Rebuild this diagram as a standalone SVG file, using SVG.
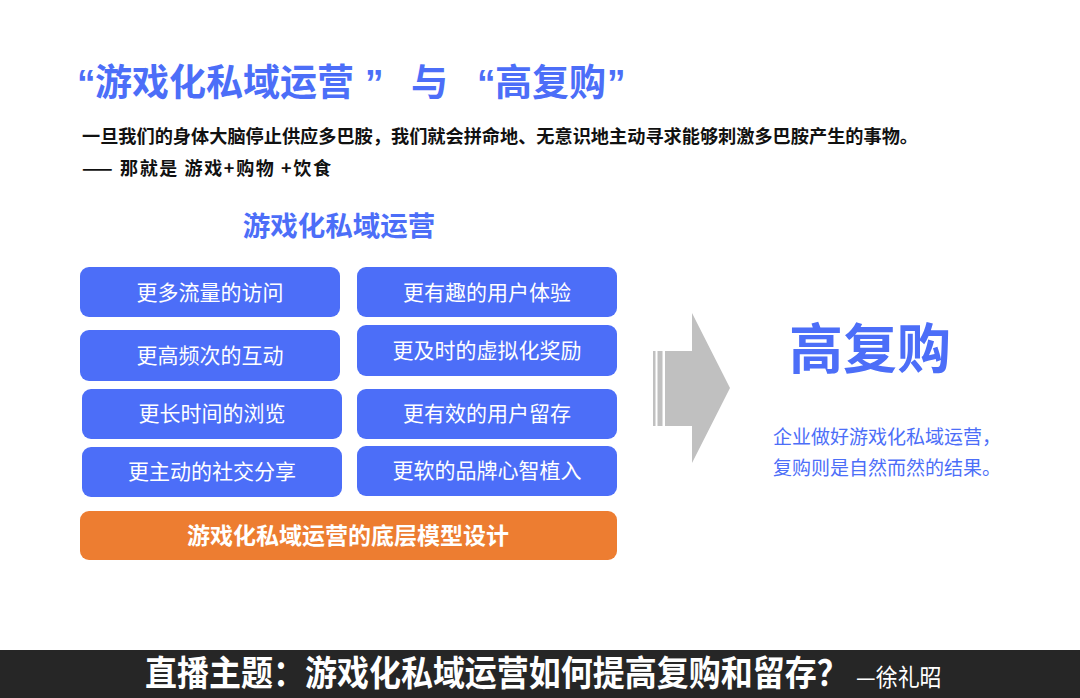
<svg xmlns="http://www.w3.org/2000/svg" width="1080" height="698" viewBox="0 0 1080 698">
<style>
text{font-family:"Noto Sans CJK SC","Noto Sans",sans-serif}
.blue{fill:#4c6ef8}
.q{font-family:"Liberation Sans","Noto Sans",sans-serif}
.box{fill:#4c6ef8}
.bt{fill:#ffffff;font-size:21px;text-anchor:middle}
.arrow{fill:#c0c0c0}
</style>
<rect width="1080" height="698" fill="#ffffff"/>
<g id="title">
<text class="blue" y="96" font-size="37" font-weight="700"><tspan class="q" x="77">“</tspan><tspan x="95">游戏化私域运营</tspan><tspan class="q" x="365">”</tspan><tspan x="411">与</tspan><tspan class="q" x="477">“</tspan><tspan x="495">高复购</tspan><tspan class="q" x="607">”</tspan></text>
</g>
<g id="subtitle" font-weight="700">
<text x="82" y="143" font-size="18" fill="#111" textLength="836" lengthAdjust="spacingAndGlyphs">一旦我们的身体大脑停止供应多巴胺，我们就会拼命地、无意识地主动寻求能够刺激多巴胺产生的事物。</text>
<text x="82" y="175" font-size="18" fill="#111" textLength="249" lengthAdjust="spacing">—— 那就是 游戏+购物 +饮食</text>
</g>
<g id="section-title">
<text class="blue" x="339" y="236" font-size="27.5" font-weight="700" text-anchor="middle">游戏化私域运营</text>
</g>
<g id="n1"><rect class="box" x="80" y="267" width="260" height="50" rx="9"/><text class="bt" x="210" y="300">更多流量的访问</text></g>
<g id="n2"><rect class="box" x="357" y="267" width="260" height="50" rx="9"/><text class="bt" x="487" y="300">更有趣的用户体验</text></g>
<g id="n3"><rect class="box" x="80" y="330" width="260" height="51" rx="9"/><text class="bt" x="210" y="363">更高频次的互动</text></g>
<g id="n4"><rect class="box" x="357" y="325" width="260" height="51" rx="9"/><text class="bt" x="487" y="358">更及时的虚拟化奖励</text></g>
<g id="n5"><rect class="box" x="82" y="389" width="260" height="50" rx="9"/><text class="bt" x="212" y="421">更长时间的浏览</text></g>
<g id="n6"><rect class="box" x="357" y="389" width="260" height="50" rx="9"/><text class="bt" x="487" y="421">更有效的用户留存</text></g>
<g id="n7"><rect class="box" x="82" y="447" width="260" height="50" rx="9"/><text class="bt" x="212" y="479">更主动的社交分享</text></g>
<g id="n8"><rect class="box" x="357" y="446" width="260" height="50" rx="9"/><text class="bt" x="487" y="478">更软的品牌心智植入</text></g>
<g id="base"><rect x="80" y="511" width="537" height="49" rx="9" fill="#ed7d31"/><text x="348" y="544" font-size="23" font-weight="700" fill="#ffffff" text-anchor="middle">游戏化私域运营的底层模型设计</text></g>
<g id="connectors">
<rect class="arrow" x="653" y="351" width="2.5" height="75"/>
<rect class="arrow" x="657.5" y="351" width="5" height="75"/>
<polygon class="arrow" points="665,351 692,351 692,313 730,388 692,463 692,426 665,426"/>
</g>
<g id="result">
<text class="blue" x="870" y="369" font-size="54" font-weight="700" text-anchor="middle">高复购</text>
<text class="blue" x="773" y="444" font-size="19">企业做好游戏化私域运营，</text>
<text class="blue" x="773" y="475" font-size="19">复购则是自然而然的结果。</text>
</g>
<g id="footer">
<rect x="0" y="650" width="1080" height="48" fill="#262626"/>
<text transform="translate(145,686) scale(1,1.1)" x="0" y="0" font-size="32" font-weight="700" fill="#ffffff">直播主题：游戏化私域运营如何提高复购和留存？</text>
<text transform="translate(856,686) scale(1,1.1)" x="0" y="0" font-size="22" fill="#ffffff">—徐礼昭</text>
</g>
</svg>
